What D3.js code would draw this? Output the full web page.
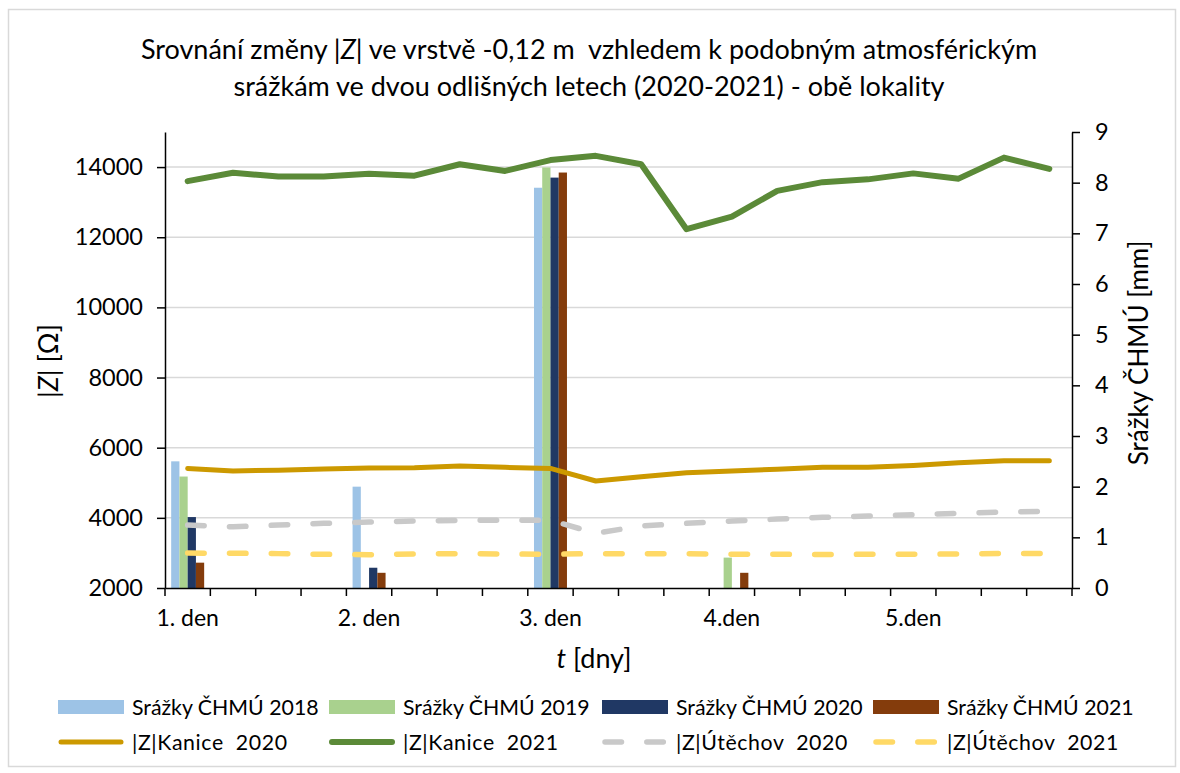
<!DOCTYPE html>
<html>
<head>
<meta charset="utf-8">
<script src="https://cdn.jsdelivr.net/npm/d3@7"></script>
<style>
  body { margin: 0; background: #fff; }
  svg { font-family: Lato, "Open Sans", sans-serif; }
  text { white-space: pre; }
</style>
</head>
<body>
<div id="chart"></div>
<script>
// categories along x (20 half-day steps), only every 4th gets a label
const categories = d3.range(20);
const dayLabels = ["1. den", "", "", "", "2. den", "", "", "", "3. den", "", "", "",
                   "4.den", "", "", "", "5.den", "", "", ""];

// precipitation bars [mm], right axis
const rain2018 = [2.5, 0, 0, 0, 2.0, 0, 0, 0, 7.9, 0, 0, 0, 0, 0, 0, 0, 0, 0, 0, 0];
const rain2019 = [2.2, 0, 0, 0, 0, 0, 0, 0, 8.3, 0, 0, 0, 0.6, 0, 0, 0, 0, 0, 0, 0];
const rain2020 = [1.4, 0, 0, 0, 0.4, 0, 0, 0, 8.1, 0, 0, 0, 0, 0, 0, 0, 0, 0, 0, 0];
const rain2021 = [0.5, 0, 0, 0, 0.3, 0, 0, 0, 8.2, 0, 0, 0, 0.3, 0, 0, 0, 0, 0, 0, 0];

// |Z| lines [Ohm], left axis
const kanice2020 = [5410, 5335, 5360, 5390, 5420, 5430, 5475, 5440, 5410, 5050,
                    5170, 5285, 5335, 5385, 5440, 5440, 5495, 5570, 5630, 5630];
const kanice2021 = [13600, 13840, 13730, 13730, 13810, 13755, 14080, 13890, 14200, 14320,
                    14080, 12230, 12590, 13320, 13570, 13650, 13820, 13670, 14270, 13950];
const utechov2020 = [3795, 3745, 3795, 3845, 3880, 3910, 3930, 3930, 3930, 3560,
                     3770, 3845, 3910, 3965, 4015, 4050, 4090, 4130, 4165, 4185];
const utechov2021 = [2995, 2990, 2980, 2960, 2950, 2970, 2980, 2970, 2960, 2980,
                     2975, 2975, 2965, 2960, 2955, 2960, 2960, 2970, 2985, 2985];

const leftTicks = [2000, 4000, 6000, 8000, 10000, 12000, 14000];
const rightTicks = [0, 1, 2, 3, 4, 5, 6, 7, 8, 9];

const barSeries = [
    { name: "Srážky ČHMÚ 2018", values: rain2018, color: "#9DC3E6" },
    { name: "Srážky ČHMÚ 2019", values: rain2019, color: "#A9D18E" },
    { name: "Srážky ČHMÚ 2020", values: rain2020, color: "#203864" },
    { name: "Srážky ČHMÚ 2021", values: rain2021, color: "#843C0C" }
];
const lineSeries = [
    { name: "|Z|Kanice  2020", values: kanice2020, color: "#CC9900", width: 5, dash: null },
    { name: "|Z|Kanice  2021", values: kanice2021, color: "#5B8A38", width: 6, dash: null },
    { name: "|Z|Útěchov  2020", values: utechov2020, color: "#C9C9C9", width: 5.5, dash: "16.5,25.3" },
    { name: "|Z|Útěchov  2021", values: utechov2021, color: "#FFD966", width: 5.5, dash: "16.5,25.3" }
];

const W = 1180, H = 773;
const plot = { left: 165, right: 1072, top: 132, bottom: 588 };

const svg = d3.select("#chart").append("svg")
    .attr("width", W)
    .attr("height", H);

// outer chart border
svg.append("rect")
    .attr("x", 8.5).attr("y", 9.5)
    .attr("width", 1167).attr("height", 757)
    .attr("fill", "#fff")
    .attr("stroke", "#D9D9D9")
    .attr("stroke-width", 1.5);

// scales
const x = d3.scaleBand().domain(categories).range([plot.left, plot.right]);
const xInner = d3.scaleBand().domain(barSeries.map(s => s.name))
    .range([0, x.bandwidth()]).paddingOuter(0.75);
const yLeft = d3.scaleLinear().domain([2000, 15000]).range([plot.bottom, plot.top]);
const yRight = d3.scaleLinear().domain([0, 9]).range([plot.bottom, plot.top]);

// gridlines
svg.append("g")
    .selectAll("line")
    .data(leftTicks.filter(t => t > 2000))
    .join("line")
    .attr("x1", plot.left).attr("x2", plot.right)
    .attr("y1", d => yLeft(d)).attr("y2", d => yLeft(d))
    .attr("stroke", "#D9D9D9")
    .attr("stroke-width", 1.5);

// bars
const barG = svg.append("g");
barSeries.forEach(s => {
    barG.append("g")
        .selectAll("rect")
        .data(s.values.map((v, i) => ({ i, v })).filter(d => d.v > 0))
        .join("rect")
        .attr("x", d => x(d.i) + xInner(s.name))
        .attr("width", xInner.bandwidth())
        .attr("y", d => yRight(d.v))
        .attr("height", d => yRight(0) - yRight(d.v))
        .attr("fill", s.color);
});

// lines
const line = d3.line()
    .x((v, i) => x(i) + x.bandwidth() / 2)
    .y(v => yLeft(v));

lineSeries.forEach(s => {
    svg.append("path")
        .datum(s.values)
        .attr("d", line)
        .attr("fill", "none")
        .attr("stroke", s.color)
        .attr("stroke-width", s.width)
        .attr("stroke-linejoin", "round")
        .attr("stroke-linecap", "round")
        .attr("stroke-dasharray", s.dash);
});

// axes
function styleAxis(size) {
    return g => {
        g.select(".domain").attr("stroke", "#000").attr("stroke-width", 1.5);
        g.selectAll(".tick line").attr("stroke", "#000").attr("stroke-width", 1.5);
        g.selectAll("text").attr("font-size", size).attr("fill", "#000")
            .attr("font-family", "Lato, sans-serif");
    };
}

svg.append("g")
    .attr("transform", `translate(${plot.left},0)`)
    .call(d3.axisLeft(yLeft).tickValues(leftTicks).tickFormat(d3.format("d"))
        .tickSize(8).tickSizeOuter(0).tickPadding(14))
    .call(styleAxis(23.5));

svg.append("g")
    .attr("transform", `translate(${plot.right},0)`)
    .call(d3.axisRight(yRight).tickValues(rightTicks).tickSize(8).tickSizeOuter(0).tickPadding(15))
    .call(styleAxis(23.5));

// bottom axis: labels centred in band, tick marks on band boundaries
const xAxisG = svg.append("g")
    .attr("transform", `translate(0,${plot.bottom})`)
    .call(d3.axisBottom(x).tickFormat(i => dayLabels[i]).tickSize(0).tickPadding(22))
    .call(styleAxis(23));
xAxisG.selectAll(".tick line").remove();
xAxisG.append("g")
    .selectAll("line")
    .data(d3.range(categories.length + 1))
    .join("line")
    .attr("x1", i => plot.left + i * x.step())
    .attr("x2", i => plot.left + i * x.step())
    .attr("y1", 0).attr("y2", 8)
    .attr("stroke", "#000")
    .attr("stroke-width", 1.5);

// title
const title = svg.append("text")
    .attr("text-anchor", "middle")
    .attr("font-size", 27)
    .attr("fill", "#000");
const t1 = title.append("tspan").attr("x", 589).attr("y", 59);
t1.append("tspan").text("Srovnání změny |");
t1.append("tspan").attr("font-style", "italic").text("Z");
t1.append("tspan").text("| ve vrstvě -0,12 m  vzhledem k podobným atmosférickým");
title.append("tspan").attr("x", 589).attr("y", 96)
    .text("srážkám ve dvou odlišných letech (2020-2021) - obě lokality");

// axis titles
const yTitle = svg.append("text")
    .attr("transform", "translate(58,361) rotate(-90)")
    .attr("text-anchor", "middle")
    .attr("font-size", 27);
yTitle.append("tspan").text("|");
yTitle.append("tspan").attr("font-style", "italic").text("Z");
yTitle.append("tspan").text("| [Ω]");

svg.append("text")
    .attr("transform", "translate(1148,353) rotate(-90)")
    .attr("text-anchor", "middle")
    .attr("font-size", 26)
    .text("Srážky ČHMÚ [mm]");

const xTitle = svg.append("text")
    .attr("x", 594).attr("y", 668)
    .attr("text-anchor", "middle")
    .attr("font-size", 27);
xTitle.append("tspan").attr("font-style", "italic").text("t");
xTitle.append("tspan").text(" [dny]");

// legend
const legendX = [58, 329, 602, 873];
const legend = svg.append("g").attr("font-size", 21.3);

barSeries.forEach((s, i) => {
    legend.append("rect")
        .attr("x", legendX[i]).attr("y", 700)
        .attr("width", 66).attr("height", 14)
        .attr("fill", s.color);
    legend.append("text")
        .attr("x", legendX[i] + 74).attr("y", 707)
        .attr("dominant-baseline", "central")
        .text(s.name);
});

lineSeries.forEach((s, i) => {
    legend.append("line")
        .attr("x1", legendX[i] + 3).attr("x2", legendX[i] + 63)
        .attr("y1", 742).attr("y2", 742)
        .attr("stroke", s.color)
        .attr("stroke-width", s.width)
        .attr("stroke-linecap", "round")
        .attr("stroke-dasharray", s.dash);
    legend.append("text")
        .attr("x", legendX[i] + 74).attr("y", 742)
        .attr("dominant-baseline", "central")
        .attr("letter-spacing", 0.6)
        .text(s.name);
});
</script>
</body>
</html>
